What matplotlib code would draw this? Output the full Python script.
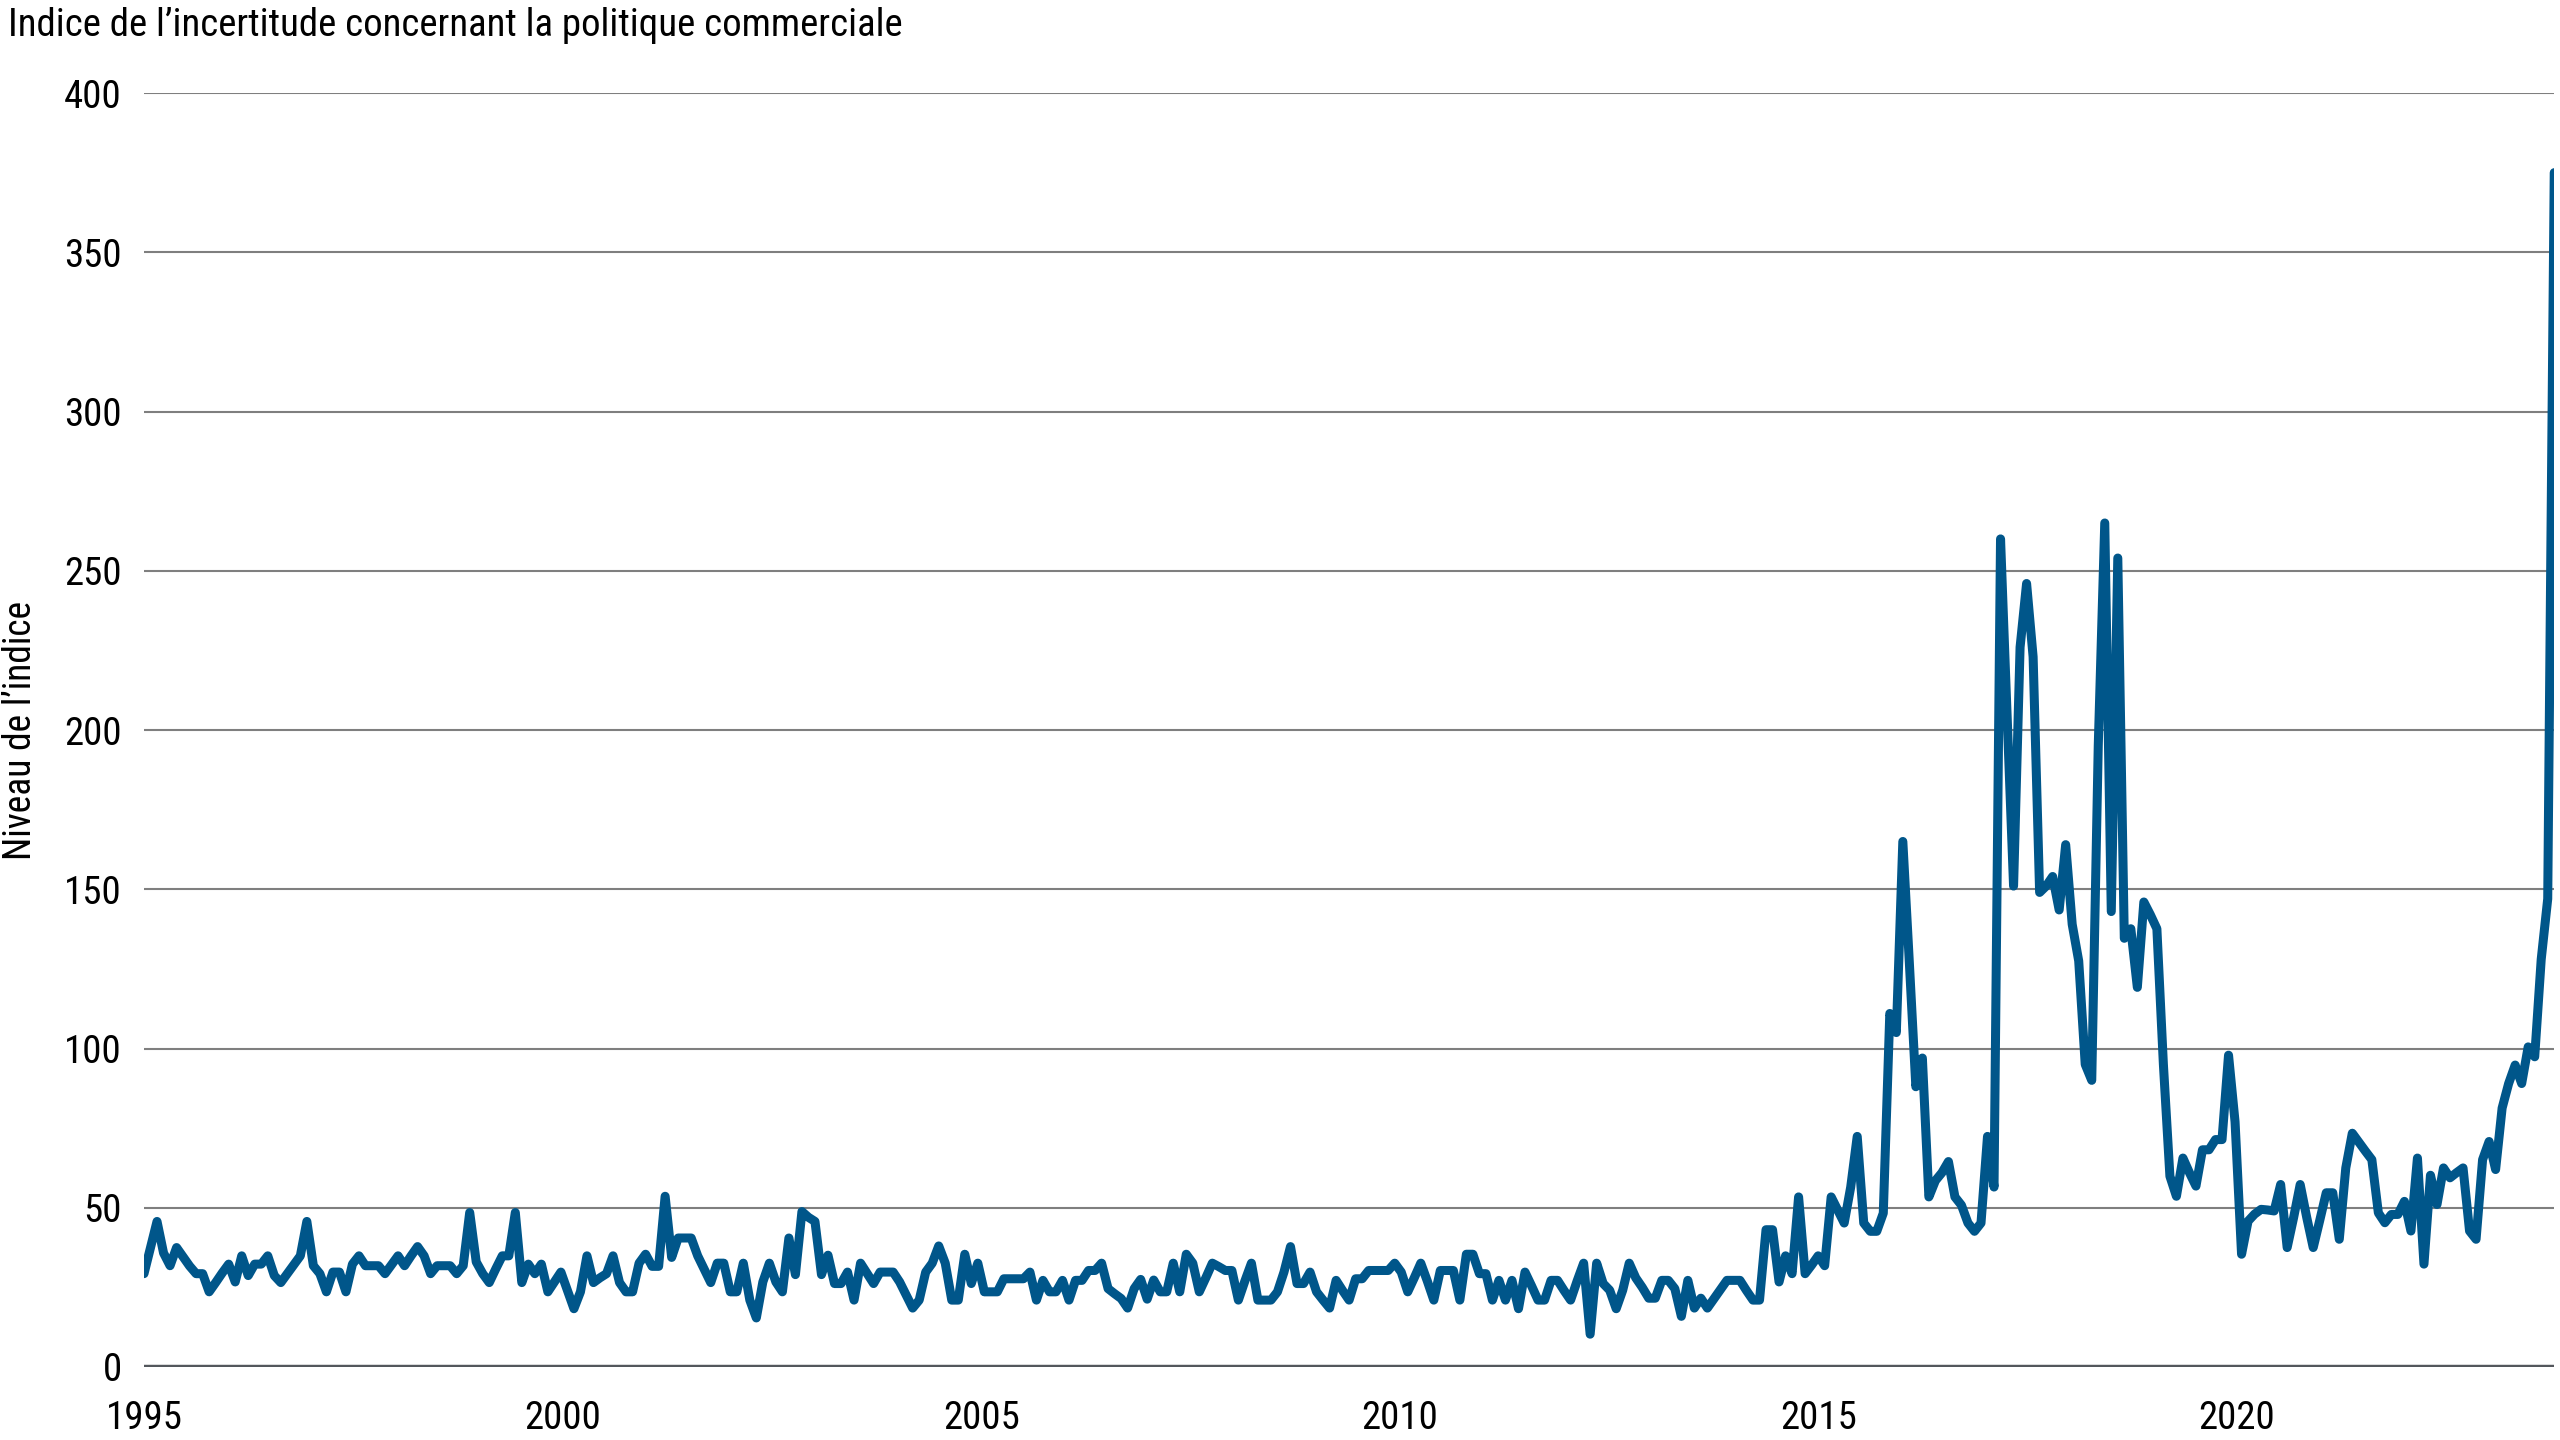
import numpy as np
import matplotlib
matplotlib.use("Agg")
import matplotlib.pyplot as plt
from matplotlib import font_manager

# pick a narrow family if one is installed
names = {f.name for f in font_manager.fontManager.ttflist}
fam = "DejaVu Sans"
for cand in ["Roboto Condensed", "Liberation Sans Narrow", "Open Sans Condensed", "Roboto", "Liberation Sans"]:
    if cand in names:
        fam = cand
        break
plt.rcParams["font.family"] = [fam, "DejaVu Sans"]

title = "Indice de l\u2019incertitude concernant la politique commerciale"
ylabel = "Niveau de l\u2019indice"
year_labels = ["1995", "2000", "2005", "2010", "2015", "2020"]
y_ticks = [0, 50, 100, 150, 200, 250, 300, 350, 400]

# monthly index values, in order
tpu = [
    # 1995-1996
    29.3, 37.5, 45.7, 35.8, 31.8, 37.5, 34.6, 31.7, 29.3, 29.3, 23.6, 26.5,
    29.5, 32.3, 26.7, 34.9, 28.7, 32.3, 32.3, 34.9, 28.7, 26.5, 29.3, 32.1,
    # 1997-1998
    34.9, 45.7, 31.8, 29.3, 23.6, 29.8, 29.8, 23.6, 32.3, 34.9, 31.8, 31.8,
    31.8, 29.3, 32.1, 34.9, 31.8, 34.9, 37.8, 34.9, 29.3, 31.8, 31.8, 31.8,
    # 1999-2000
    29.3, 31.8, 48.5, 33.0, 29.3, 26.5, 30.8, 34.9, 34.9, 48.5, 26.5, 32.3,
    29.3, 32.3, 23.6, 26.7, 29.8, 24.0, 18.3, 23.6, 34.9, 26.5, 28.0, 29.3,
    # 2001-2002
    34.9, 26.5, 23.6, 23.6, 32.6, 35.4, 31.6, 31.6, 53.6, 34.4, 40.5, 40.5,
    40.5, 34.9, 30.7, 26.5, 32.6, 32.6, 23.6, 23.6, 32.6, 21.0, 15.4, 26.7,
    # 2003-2004
    32.6, 26.7, 23.6, 40.5, 29.0, 48.8, 47.0, 45.7, 29.0, 35.1, 26.2, 26.2,
    29.8, 21.0, 32.6, 29.4, 26.2, 29.8, 29.8, 29.8, 26.7, 22.6, 18.5, 21.0,
    # 2005-2006
    29.8, 32.6, 38.0, 32.6, 21.0, 21.0, 35.4, 26.2, 32.6, 23.6, 23.6, 23.6,
    27.7, 27.7, 27.7, 27.7, 29.8, 21.0, 27.2, 23.6, 23.6, 27.2, 21.0, 27.2,
    # 2007-2008
    27.2, 30.3, 30.3, 32.6, 24.6, 23.0, 21.5, 18.5, 24.6, 27.5, 21.3, 27.3,
    23.6, 23.6, 32.6, 23.6, 35.4, 32.6, 23.6, 28.0, 32.6, 31.5, 30.3, 30.3,
    # 2009-2010
    21.0, 27.0, 32.6, 21.0, 21.0, 21.0, 23.6, 29.8, 37.8, 26.2, 26.2, 29.8,
    23.6, 21.0, 18.5, 27.2, 24.0, 21.0, 27.7, 27.7, 30.3, 30.3, 30.3, 30.3,
    # 2011-2012
    32.6, 29.8, 23.6, 28.0, 32.6, 27.0, 21.0, 30.3, 30.3, 30.3, 21.0, 35.4,
    35.4, 29.3, 29.3, 21.0, 27.2, 21.0, 27.2, 18.3, 29.8, 25.5, 21.0, 21.0,
    # 2013-2014
    27.2, 27.2, 24.0, 21.0, 27.0, 32.6, 10.3, 32.6, 26.2, 24.1, 18.3, 24.1,
    32.6, 28.0, 25.0, 21.6, 21.6, 27.2, 27.2, 24.6, 15.9, 27.2, 18.5, 21.6,
    # 2015-2016
    18.5, 21.4, 24.3, 27.2, 27.2, 27.2, 24.0, 21.0, 21.0, 43.1, 43.1, 26.7,
    34.9, 29.3, 53.4, 29.3, 32.0, 34.9, 31.8, 53.4, 49.3, 45.2, 56.5, 72.4,
    # 2017-2018
    45.2, 42.6, 42.6, 48.3, 111.0, 105.0, 165.0, 127.0, 88.0, 97.0, 53.4, 58.5,
    61.0, 64.5, 53.4, 50.8, 45.2, 42.6, 45.2, 72.4, 56.5, 260.0, 205.0, 151.0,
    # 2019-2020
    226.0, 246.0, 223.0, 149.0, 151.0, 154.0, 143.5, 164.0, 139.0, 127.5, 95.0, 90.0,
    195.0, 265.0, 143.0, 254.0, 134.6, 137.6, 119.2, 146.0, 142.0, 137.6, 95.0, 59.9,
    # 2021-2022
    53.6, 65.6, 61.0, 56.8, 68.2, 68.2, 71.4, 71.4, 97.9, 77.0, 35.4, 45.8,
    48.0, 49.5, 49.3, 49.0, 57.3, 37.5, 47.0, 57.3, 47.0, 37.5, 46.0, 54.7,
    # 2023-2024
    54.7, 40.1, 62.5, 73.4, 70.6, 67.8, 65.1, 48.4, 45.3, 47.9, 47.9, 52.0,
    42.7, 65.6, 32.3, 60.2, 51.0, 62.5, 59.4, 61.0, 62.5, 42.7, 40.1, 65.1,
    # 2025
    70.8, 62.0, 81.3, 89.0, 94.8, 89.0, 100.5, 97.4, 128.0, 147.0, 375.0,
]

x = np.arange(len(tpu))
step5 = 64.26  # points between two year labels on the axis

fig = plt.figure(figsize=(25.6, 14.4), dpi=100)
ax = fig.add_axes([0.05625, 0.0507, 0.9415, 0.8847])

for v in y_ticks[1:]:
    ax.axhline(v, color="#7f7f7f", lw=1.5, zorder=1)
ax.axhline(0, color="#53575c", lw=3.2, zorder=1)

ax.plot(x, tpu, color="#00568a", lw=6.5, solid_joinstyle="round",
        solid_capstyle="round", zorder=3)

ax.set_xlim(0, len(tpu) - 1)
ax.set_ylim(0, 400)
ax.set_yticks(y_ticks)
ax.set_yticklabels([str(v) for v in y_ticks])
ax.set_xticks([k * step5 for k in range(len(year_labels))])
ax.set_xticklabels(year_labels)
ax.tick_params(axis="both", length=0, labelsize=28, colors="black")
ax.tick_params(axis="y", pad=16)
ax.tick_params(axis="x", pad=24)
for s in ax.spines.values():
    s.set_visible(False)

ax.set_ylabel(ylabel, fontsize=27)
ax.yaxis.set_label_coords(-0.0436, 0.5)
fig.text(0.003, 0.995, title, fontsize=28, ha="left", va="top")

fig.savefig("out.png", dpi=100)
